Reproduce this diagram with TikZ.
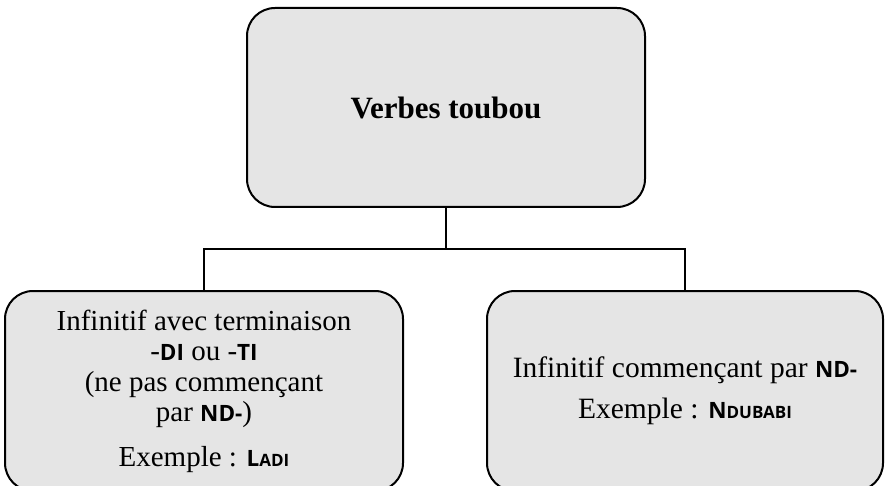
\documentclass[tikz,border=0pt]{standalone}
\usepackage{fontspec}
\setmainfont{Liberation Serif}
\newfontfamily\sansfam{Open Sans}
\definecolor{boxgray}{RGB}{229,229,229}
\newcommand\tsb[1]{{\sansfam\bfseries\fontsize{22.5}{26}\selectfont #1}}
\newcommand\tsc[2]{{\sansfam\bfseries\fontsize{22.5}{26}\selectfont #1\fontsize{17}{20}\selectfont #2}}
\begin{document}
\begin{tikzpicture}[x=1pt,y=-1pt,
  box/.style={draw=black, line width=2pt, fill=boxgray, rounded corners=28pt,
    align=center, inner sep=0pt, text=black},
  conn/.style={draw=black, line width=2pt}]
\useasboundingbox (0,0) rectangle (885,486);
\node[box, minimum width=398pt, minimum height=199pt,
  font=\fontsize{31}{34}\selectfont\bfseries] (top) at (446,107.5) {Verbes toubou};
\node[box, minimum width=398pt, minimum height=200pt,
  font=\fontsize{29}{30.5}\selectfont] (left) at (204,391)
  {Infinitif avec terminaison\\ -\tsb{DI} ou -\tsb{TI}\\ (ne pas commençant\\ par \tsb{ND-})\\[14pt] Exemple : \tsc{L}{ADI}};
\node[box, minimum width=396pt, minimum height=200pt,
  font=\fontsize{29.5}{30.5}\selectfont] (right) at (685,391)
  {Infinitif commençant par \tsb{ND-}\\[10.5pt] Exemple : \tsc{N}{DUBABI}};
\coordinate (j) at (446,249);
\draw[conn] (top.south) -- (j);
\draw[conn] (left.north) -- (left.north |- j) -- (right.north |- j) -- (right.north);
\end{tikzpicture}
\end{document}
